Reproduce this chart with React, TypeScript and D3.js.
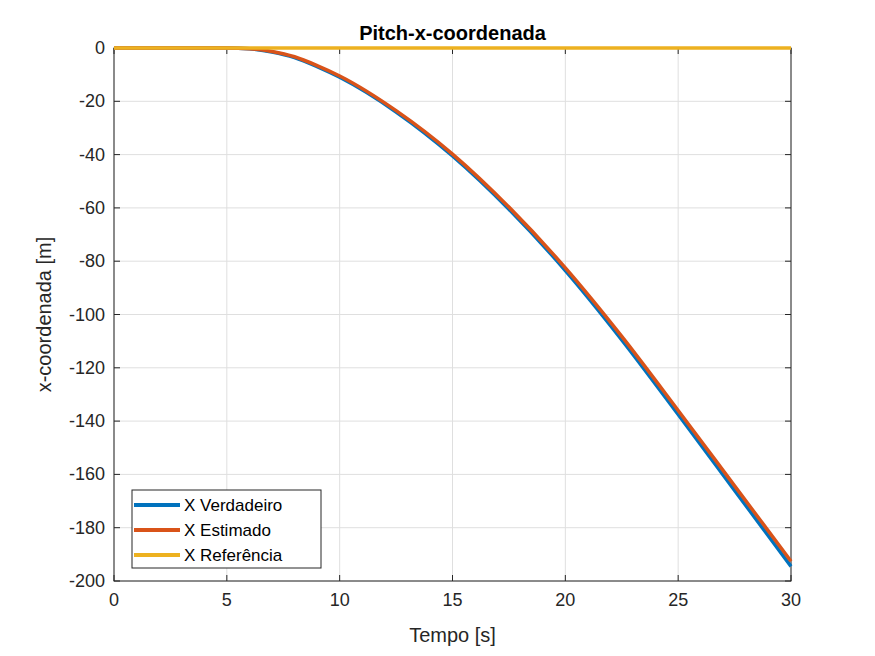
import React from "react";
import * as d3 from "d3";

const timeTrue = [0, 5, 5.5, 6, 7, 8, 9, 10, 12.5, 15, 17.5, 20, 22.5, 25, 27.5, 30];
const xTrue = [0, 0, -0.05, -0.3, -1.5, -3.6, -7, -11, -24, -40.5, -60.5, -83.5, -109.5, -137.5, -166, -194.5];
const timeEst = [0, 5, 5.5, 6, 7, 8, 9, 10, 12.5, 15, 17.5, 20, 22.5, 25, 27.5, 30];
const xEst = [0, 0, -0.05, -0.25, -1.3, -3.3, -6.6, -10.5, -23.5, -39.8, -59.7, -82.5, -108.2, -136, -164.3, -192.6];
const timeRef = [0, 30];
const xRef = [0, 0];
const xTicks = [0, 5, 10, 15, 20, 25, 30];
const yTicks = [0, -20, -40, -60, -80, -100, -120, -140, -160, -180, -200];

const series = [
  { name: "X Verdadeiro", t: timeTrue, v: xTrue, color: "#0072BD" },
  { name: "X Estimado", t: timeEst, v: xEst, color: "#D95319" },
  { name: "X Referência", t: timeRef, v: xRef, color: "#EDB120" },
];

export default function App() {
  const m = { left: 114, right: 791, top: 48, bottom: 581 };
  const x = d3.scaleLinear().domain([0, 30]).range([m.left, m.right]);
  const y = d3.scaleLinear().domain([-200, 0]).range([m.bottom, m.top]);
  const line = d3
    .line<[number, number]>()
    .x((d) => x(d[0]))
    .y((d) => y(d[1]))
    .curve(d3.curveMonotoneX);
  const font = "Arial, 'Liberation Sans', sans-serif";
  return (
    <svg width={875} height={656} style={{ position: "absolute", left: 0, top: 0, background: "#fff" }} fontFamily={font}>
      <rect x={m.left} y={m.top} width={m.right - m.left} height={m.bottom - m.top} fill="#fff" />
      {xTicks.map((t) => (
        <line key={"gx" + t} x1={x(t)} x2={x(t)} y1={m.top} y2={m.bottom} stroke="#dfdfdf" />
      ))}
      {yTicks.map((t) => (
        <line key={"gy" + t} x1={m.left} x2={m.right} y1={y(t)} y2={y(t)} stroke="#dfdfdf" />
      ))}
      <rect x={m.left} y={m.top} width={m.right - m.left} height={m.bottom - m.top} fill="none" stroke="#262626" strokeWidth={1} />
      {xTicks.map((t) => (
        <g key={"tx" + t}>
          <line x1={x(t)} x2={x(t)} y1={m.bottom} y2={m.bottom - 6} stroke="#262626" />
          <line x1={x(t)} x2={x(t)} y1={m.top} y2={m.top + 6} stroke="#262626" />
          <text x={x(t)} y={m.bottom + 25} textAnchor="middle" fontSize={18} fill="#262626">{t}</text>
        </g>
      ))}
      {yTicks.map((t) => (
        <g key={"ty" + t}>
          <line x1={m.left} x2={m.left + 6} y1={y(t)} y2={y(t)} stroke="#262626" />
          <line x1={m.right} x2={m.right - 6} y1={y(t)} y2={y(t)} stroke="#262626" />
          <text x={m.left - 9} y={y(t) + 6} textAnchor="end" fontSize={18} fill="#262626">{t}</text>
        </g>
      ))}
      <g>
        {series.map((s) => (
          <path
            key={s.name}
            d={line(s.t.map((t, i) => [t, s.v[i]] as [number, number])) || ""}
            fill="none"
            stroke={s.color}
            strokeWidth={3.5}
          />
        ))}
      </g>
      <text x={(m.left + m.right) / 2} y={40} textAnchor="middle" fontSize={20} fontWeight="bold" fill="#000">Pitch-x-coordenada</text>
      <text x={(m.left + m.right) / 2} y={642} textAnchor="middle" fontSize={20} fill="#262626">Tempo [s]</text>
      <text transform={`translate(51,${(m.top + m.bottom) / 2}) rotate(-90)`} textAnchor="middle" fontSize={20} fill="#262626">x-coordenada [m]</text>
      <g>
        <rect x={132} y={490} width={189} height={78} fill="#fff" stroke="#262626" />
        {series.map((s, i) => (
          <g key={"lg" + s.name}>
            <line x1={134} x2={180} y1={505 + i * 25} y2={505 + i * 25} stroke={s.color} strokeWidth={4} />
            <text x={184} y={511 + i * 25} fontSize={17} fill="#000">{s.name}</text>
          </g>
        ))}
      </g>
    </svg>
  );
}
